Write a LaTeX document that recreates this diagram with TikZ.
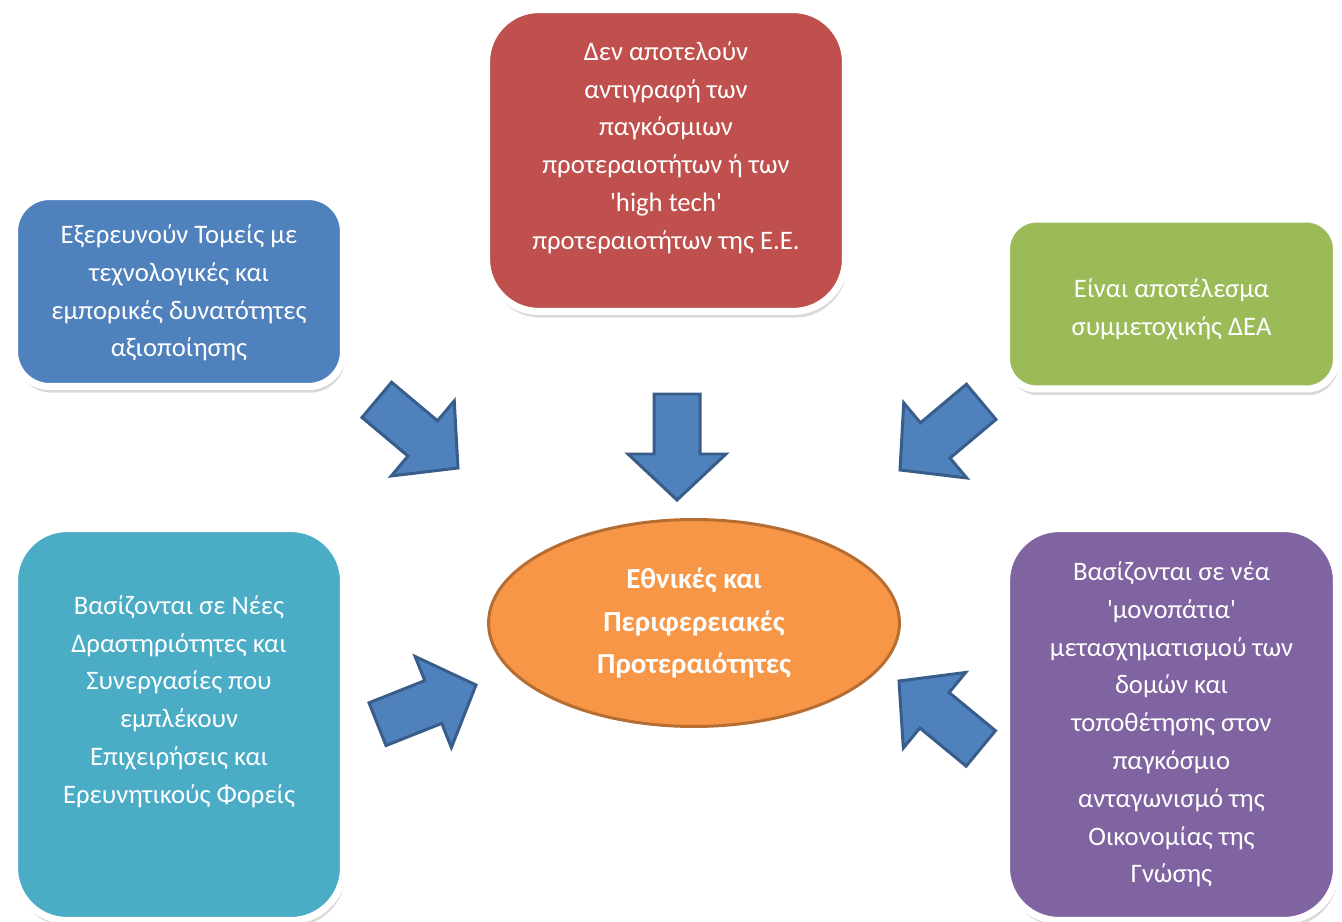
\documentclass[tikz,border=0pt]{standalone}
\usepackage{fontspec}
\setmainfont{Carlito}
\usepackage{tikz}
\usetikzlibrary{shapes.geometric,shadows}
\definecolor{boxblue}{HTML}{4F81BD}
\definecolor{boxred}{HTML}{C0504D}
\definecolor{boxgreen}{HTML}{9BBB59}
\definecolor{boxteal}{HTML}{4BACC6}
\definecolor{boxpurple}{HTML}{8064A2}
\definecolor{hubfill}{HTML}{F79646}
\definecolor{hubline}{HTML}{B66D31}
\definecolor{arrowfill}{HTML}{4F81BD}
\definecolor{arrowline}{HTML}{385D8A}
\tikzset{
  infobox/.style={draw=white, line width=4pt, inner sep=0pt,
    drop shadow={shadow xshift=1pt, shadow yshift=-3.5pt, opacity=0.3}},
  boxtext/.style={align=center, text=white, font=\fontsize{15.2}{21.5}\selectfont, inner sep=0pt},
  hub/.style={ellipse, fill=hubfill, draw=hubline, line width=1.7pt, align=center,
    text=white, font=\bfseries\fontsize{16.5}{24}\selectfont, inner sep=0pt},
  bigarrow/.style={fill=arrowfill, draw=arrowline, line width=1.7pt, line join=miter}
}

\begin{document}
\begin{tikzpicture}[x=0.02cm, y=-0.02cm]
\useasboundingbox (0,0) rectangle (1342,922);
\node[infobox, fill=boxblue, minimum width=6.58cm, minimum height=3.8cm, rounded corners=0.7cm] (explore) at (179,291.5) {};
\node[infobox, fill=boxred, minimum width=7.18cm, minimum height=6.04cm, rounded corners=1.05cm] (nocopy) at (666,160.5) {};
\node[infobox, fill=boxgreen, minimum width=6.6cm, minimum height=3.4cm, rounded corners=0.6cm] (result) at (1171.5,304) {};
\node[infobox, fill=boxteal, minimum width=6.58cm, minimum height=7.84cm, rounded corners=1.05cm] (based) at (179,724.5) {};
\node[infobox, fill=boxpurple, minimum width=6.6cm, minimum height=7.84cm, rounded corners=1.05cm] (paths) at (1171.5,724.5) {};
\node[boxtext] (exploretext) at ([yshift=-0.03cm]explore.center)
  {Εξερευνούν Τομείς με\\τεχνολογικές και\\εμπορικές δυνατότητες\\αξιοποίησης};
\node[boxtext] (nocopytext) at ([yshift=0.26cm]nocopy.center)
  {Δεν αποτελούν\\αντιγραφή των\\παγκόσμιων\\προτεραιοτήτων ή των\\\textquotesingle high tech\textquotesingle\\προτεραιοτήτων της Ε.Ε.};
\node[boxtext] (resulttext) at ([yshift=-0.11cm]result.center)
  {Είναι αποτέλεσμα\\συμμετοχικής ΔΕΑ};
\node[boxtext] (basedtext) at ([yshift=0.46cm]based.center)
  {Βασίζονται σε Νέες\\Δραστηριότητες και\\Συνεργασίες που\\εμπλέκουν\\Επιχειρήσεις και\\Ερευνητικούς Φορείς};
\node[boxtext] (pathstext) at (paths.center)
  {Βασίζονται σε νέα\\\textquotesingle μονοπάτια\textquotesingle\\μετασχηματισμού των\\δομών και\\τοποθέτησης στον\\παγκόσμιο\\ανταγωνισμό της\\Οικονομίας της\\Γνώσης};
\node[hub, minimum width=8.22cm, minimum height=4.14cm] (prio) at (694,623)
  {Εθνικές και\\Περιφερειακές\\Προτεραιότητες};
% block arrows: tip x / tip y / direction
\foreach \tx/\ty/\ang in {458/468/-40, 677/500/-90, 900/470/220, 476/685/21.7, 899/681/140.5}
{
  \draw[bigarrow, shift={(\tx,\ty)}, rotate=\ang]
    (0,0) -- (-46,49) -- (-46,23) -- (-106,23) -- (-106,-23) -- (-46,-23) -- (-46,-49) -- cycle;
}
\end{tikzpicture}
\end{document}
